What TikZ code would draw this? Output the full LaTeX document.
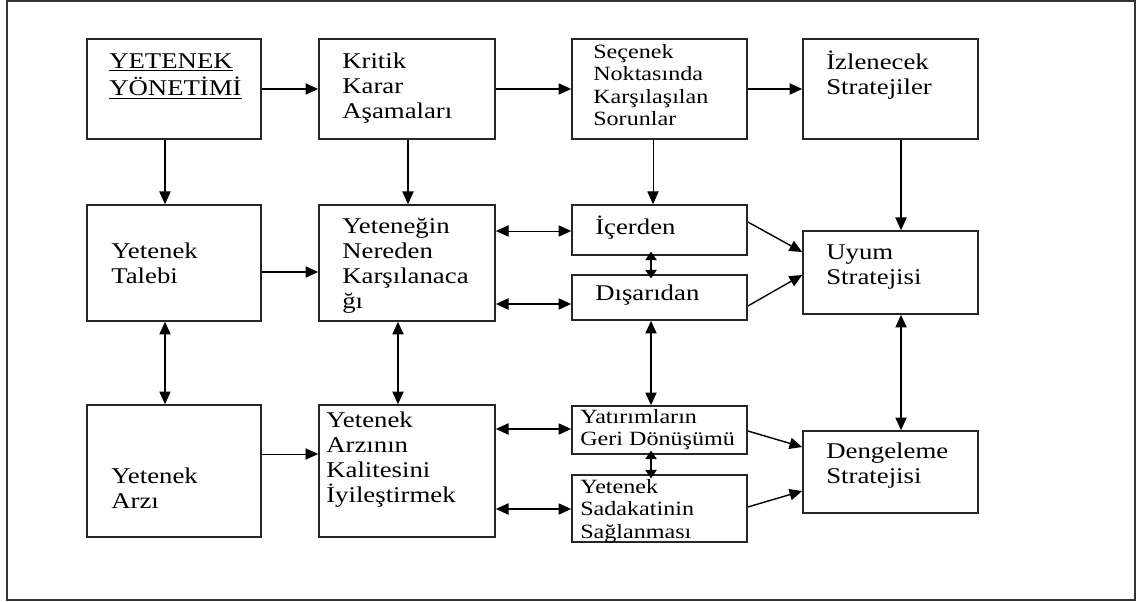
\documentclass[tikz,border=0pt]{standalone}
\usepackage{fontspec}
\setmainfont{Liberation Serif}[FakeStretch=1.19]
\usetikzlibrary{arrows.meta,fit}

\tikzset{
	box/.style={draw=black!85, line width=1.2pt, inner sep=0pt},
	txt/.style={anchor=north west, inner sep=0pt, align=left, font=\fontsize{16}{17.8}\selectfont},
	stxt/.style={txt, font=\fontsize{14.4}{16}\selectfont},
	arr/.style={-{Triangle[length=9pt,width=8pt]}, line width=1pt},
	darr/.style={{Triangle[length=9pt,width=8pt]}-{Triangle[length=9pt,width=8pt]}, line width=1pt},
	sdarr/.style={{Triangle[length=6pt,width=8pt]}-{Triangle[length=6pt,width=8pt]}, line width=1pt, shorten <=-3pt, shorten >=-3pt}
}

\begin{document}
\begin{tikzpicture}[x=0.025cm, y=-0.025cm]
	
	\useasboundingbox (0,0) rectangle (1142,602);
	\draw[line width=1.2pt, black!80] (7,1) rectangle (1135,600);
	
	\node[box, fit={(87,39) (261,139)}] (yy) {};
	\node[box, fit={(319,39) (495,139)}] (krit) {};
	\node[box, fit={(572,39) (747,139)}] (secenek) {};
	\node[box, fit={(803,39) (978,139)}] (izlen) {};
	
	\node[box, fit={(87,205) (261,321)}] (talep) {};
	\node[box, fit={(319,205) (495,321)}] (nereden) {};
	\node[box, fit={(572,205) (747,255)}] (icerden) {};
	\node[box, fit={(572,275) (747,320)}] (disari) {};
	\node[box, fit={(803,231) (978,314)}] (uyum) {};
	
	\node[box, fit={(87,405) (261,537)}] (arz) {};
	\node[box, fit={(319,405) (495,537)}] (kalite) {};
	\node[box, fit={(572,406) (747,454)}] (yatirim) {};
	\node[box, fit={(572,475) (747,542)}] (sadakat) {};
	\node[box, fit={(803,431) (978,513)}] (denge) {};
	
	\node[txt] (yyt) at (109,50.5) {\strut\underline{YETENEK}\\\underline{YÖNETİMİ}};
	\node[txt] (kritt) at (342,50.5) {\strut Kritik\\Karar\\Aşamaları};
	\node[stxt] (secenekt) at (593,42) {\strut Seçenek\\Noktasında\\Karşılaşılan\\Sorunlar};
	\node[txt] (izlent) at (826,50.5) {\strut İzlenecek\\Stratejiler};
	
	\node[txt] (talept) at (111,240.5) {\strut Yetenek\\Talebi};
	\node[txt] (neredent) at (342,215.5) {\strut Yeteneğin\\Nereden\\Karşılanaca\\ğı};
	\node[txt] (icerdent) at (595,215.5) {\strut İçerden};
	\node[txt] (disarit) at (595,282.5) {\strut Dışarıdan};
	\node[txt] (uyumt) at (826,241.5) {\strut Uyum\\Stratejisi};
	
	\node[txt] (arzt) at (111,465.5) {\strut Yetenek\\Arzı};
	\node[txt] (kalitet) at (326,409.5) {\strut Yetenek\\Arzının\\Kalitesini\\İyileştirmek};
	\node[stxt] (yatirimt) at (580,407) {\strut Yatırımların\\Geri Dönüşümü};
	\node[stxt] (sadakatt) at (580,477) {\strut Yetenek\\Sadakatinin\\Sağlanması};
	\node[txt] (denget) at (826,440.5) {\strut Dengeleme\\Stratejisi};
	
	\draw[arr] (yy.east |- 0,89) -- (krit.west |- 0,89);
	\draw[arr] (krit.east |- 0,89) -- (secenek.west |- 0,89);
	\draw[arr] (secenek.east |- 0,89) -- (izlen.west |- 0,89);
	
	\draw[arr] (yy.south -| 165,0) -- (talep.north -| 165,0);
	\draw[arr] (krit.south -| 408,0) -- (nereden.north -| 408,0);
	\draw[arr, line width=0.7pt] (secenek.south -| 653,0) -- (icerden.north -| 653,0);
	\draw[arr] (izlen.south -| 901,0) -- (uyum.north -| 901,0);
	
	\draw[arr] (talep.east |- 0,272) -- (nereden.west |- 0,272);
	\draw[darr, line width=0.7pt] (nereden.east |- 0,231) -- (icerden.west |- 0,231);
	\draw[darr] (nereden.east |- 0,304) -- (disari.west |- 0,304);
	\draw[sdarr] (icerden.south -| 651,0) -- (disari.north -| 651,0);
	\draw[arr] (icerden.east |- 0,222) -- (uyum.west |- 0,252);
	\draw[arr] (disari.east |- 0,306) -- (uyum.west |- 0,275);
	
	\draw[darr] (talep.south -| 165,0) -- (arz.north -| 165,0);
	\draw[darr] (nereden.south -| 398,0) -- (kalite.north -| 398,0);
	\draw[darr] (disari.south -| 651,0) -- (yatirim.north -| 651,0);
	\draw[darr] (uyum.south -| 901,0) -- (denge.north -| 901,0);
	
	\draw[arr, line width=0.7pt] (arz.east |- 0,454) -- (kalite.west |- 0,454);
	\draw[darr] (kalite.east |- 0,429) -- (yatirim.west |- 0,429);
	\draw[darr] (kalite.east |- 0,509) -- (sadakat.west |- 0,509);
	\draw[sdarr] (yatirim.south -| 651,0) -- (sadakat.north -| 651,0);
	\draw[arr] (yatirim.east |- 0,431) -- (denge.west |- 0,447);
	\draw[arr] (sadakat.east |- 0,507) -- (denge.west |- 0,491);
	
\end{tikzpicture}
\end{document}
